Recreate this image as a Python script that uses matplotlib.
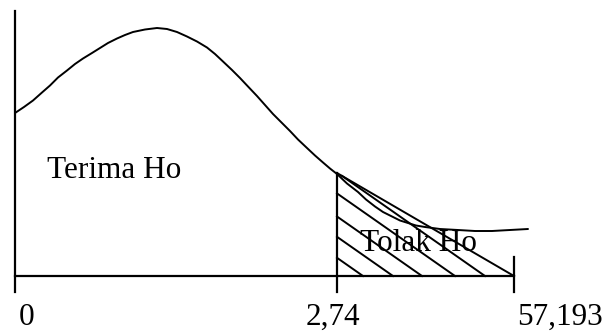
import matplotlib
matplotlib.use("Agg")
import matplotlib.pyplot as plt

# drawing units = pixels of the 607x331 picture (y grows downward)
curve_x = [15, 24, 33, 42, 50, 58, 67, 75, 83, 92, 100, 108, 117, 125, 133, 145,
           157, 167, 177, 187, 197, 207, 215, 223, 232, 240, 248, 257, 265, 273,
           282, 290, 298, 307, 315, 323, 330, 337, 347, 358, 366, 375, 383, 392,
           400, 408, 416, 425, 440, 458, 475, 492, 510, 528]
curve_y = [113, 107, 100.5, 92.5, 85.5, 77.5, 70.5, 64, 58.5, 53, 48, 43, 38.5, 35, 32, 29.5,
           28, 29, 32, 36.5, 41.5, 47.5, 54, 61.5, 70, 78, 86.5, 96, 105, 114,
           123, 131, 139.5, 148, 155.5, 162.5, 168.5, 174, 183.5, 192, 199.5, 206.5, 212, 216.5,
           220.5, 223, 225.5, 227, 229, 230, 231, 231, 230, 229]

tick_x = [15, 337, 514]
tick_labels = ["0", "2,74", "57,193"]
region_labels = ["Terima Ho", "Tolak Ho"]

# hatch lines of the rejection area: where they meet the base line
hatch_ends = [363, 393, 422, 455, 485]
hatch_slope = 0.7

base_y = 276
crit_top = 173
axis_top = 11
tick_bottom = 292
right_top = 257

fig = plt.figure(figsize=(6.07, 3.31), dpi=100)
ax = fig.add_axes([0, 0, 1, 1])
ax.set_xlim(0, 607)
ax.set_ylim(331, 0)
ax.axis("off")

lw_axis = 1.6
lw_line = 1.4

# curve
ax.plot(curve_x, curve_y, color="black", lw=lw_line,
        solid_capstyle="round", solid_joinstyle="round")

# axes / borders
ax.plot([tick_x[0], tick_x[0]], [axis_top, tick_bottom], color="black", lw=lw_axis)
ax.plot([tick_x[0], tick_x[2]], [base_y, base_y], color="black", lw=lw_axis)
ax.plot([tick_x[1], tick_x[1]], [crit_top, tick_bottom], color="black", lw=lw_axis)
ax.plot([tick_x[2], tick_x[2]], [right_top, tick_bottom], color="black", lw=lw_axis)

# triangle edge of the rejection area
ax.plot([tick_x[1], tick_x[2]], [crit_top, base_y], color="black", lw=lw_line)

# hatching, cut at the vertical line or at the triangle edge
m_h = (base_y - crit_top) / (tick_x[2] - tick_x[1])
for xe in hatch_ends:
    xs = (base_y - crit_top - hatch_slope * xe + m_h * tick_x[1]) / (m_h - hatch_slope)
    xs = max(xs, tick_x[1])
    ys = base_y - hatch_slope * (xe - xs)
    ax.plot([xs, xe], [ys, base_y], color="black", lw=lw_line)

font = dict(family="Liberation Serif", size=22.5, color="black", va="baseline")
ax.text(47, 178, region_labels[0], ha="left", **font)
ax.text(360, 251, region_labels[1], ha="left", **font)

label_x = [19, 306, 517]
for x, lab in zip(label_x, tick_labels):
    ax.text(x, 325, lab, ha="left", **font)

fig.savefig("out.png", dpi=100)
plt.close(fig)
